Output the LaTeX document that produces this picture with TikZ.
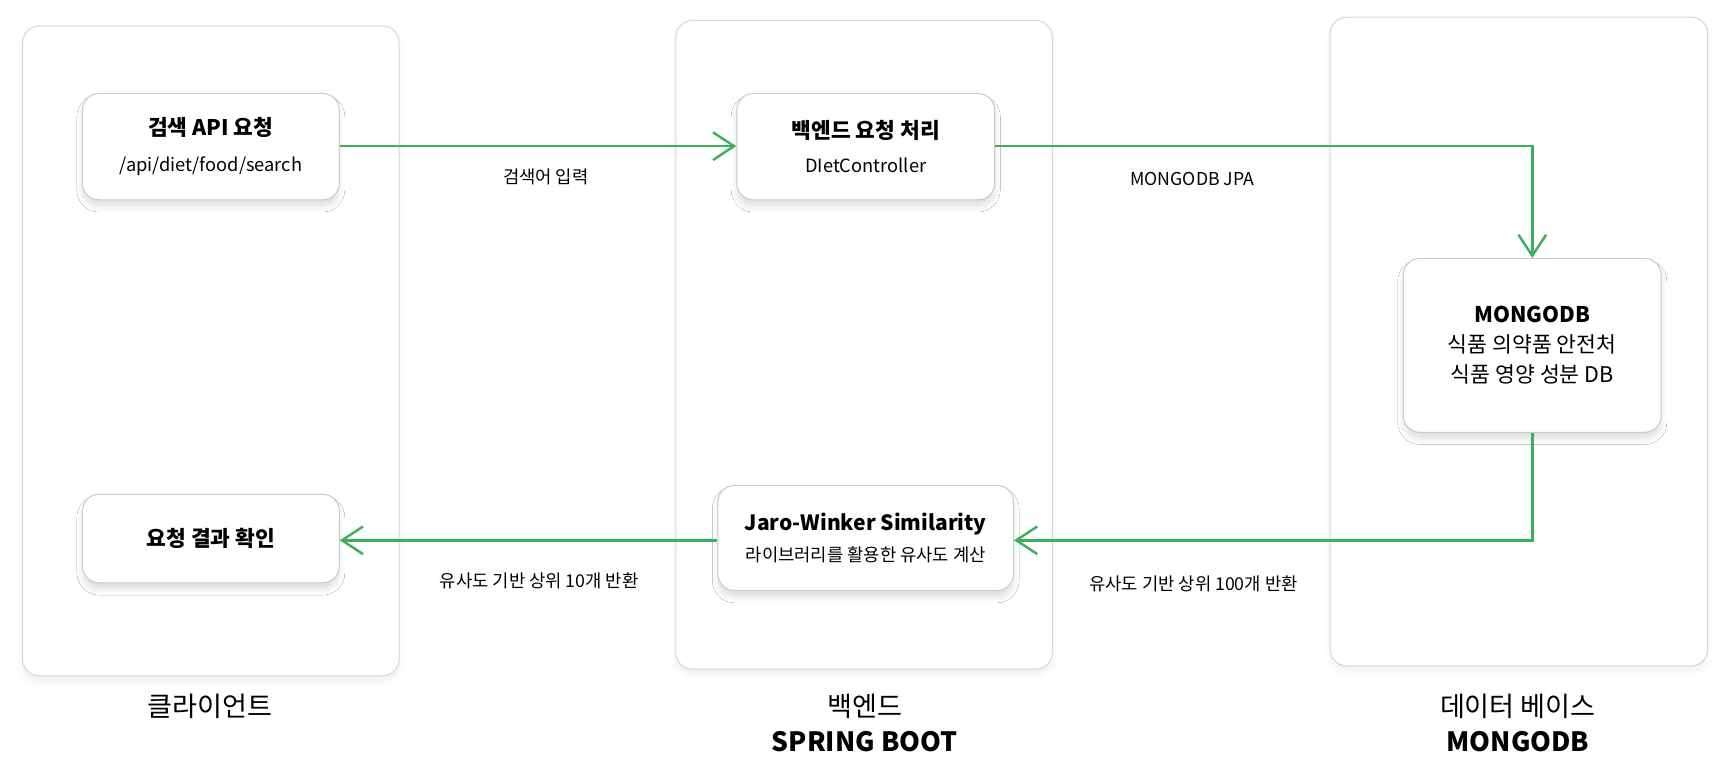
\documentclass[tikz,border=0pt]{standalone}
\usepackage{fontspec}
\setmainfont{Noto Sans CJK KR}
\usetikzlibrary{arrows.meta,shadows.blur}
\definecolor{flow}{HTML}{3CB05A}
\definecolor{edgegray}{HTML}{D6D6D6}
\definecolor{boxgray}{HTML}{CACACA}
\begin{document}
\begin{tikzpicture}[x=1pt,y=-1pt,
  lane/.style={draw=edgegray,line width=0.9pt,rounded corners=15pt,fill=white,
    blur shadow={shadow xshift=0pt,shadow yshift=-5pt,shadow blur radius=5pt,shadow opacity=6},
    inner sep=0pt,anchor=north west},
  card/.style={draw=boxgray,line width=0.9pt,rounded corners=15pt,fill=white,
    blur shadow={shadow xshift=0pt,shadow yshift=-6pt,shadow blur radius=5pt,shadow opacity=12},
    inner sep=0pt,anchor=north west,align=center,text=black},
  elabel/.style={font=\fontsize{16}{19}\selectfont,text=black,inner sep=0pt},
  lanelabel/.style={font=\fontsize{24.5}{29}\selectfont,text=black,inner sep=0pt,align=center},
  lanebold/.style={font=\fontsize{24}{29}\selectfont\bfseries,text=black,inner sep=0pt,align=center},
  flowarrow/.style={draw=flow,line width=2.2pt,-{Straight Barb[length=19pt,width=25pt]}}
]
\useasboundingbox (0,0) rectangle (1568,706.3);
% lanes
\node[lane,minimum width=340pt,minimum height=587pt] (lane1) at (20,23) {};
\node[lane,minimum width=340pt,minimum height=586pt] (lane2) at (610,18) {};
\node[lane,minimum width=341pt,minimum height=586pt] (lane3) at (1201,15) {};
% cards
\node[card,minimum width=232pt,minimum height=96pt,font=\fontsize{16.5}{33}\selectfont] (search) at (74,84)
  {{\fontsize{19.4}{23}\selectfont\bfseries 검색 API 요청}\\/api/diet/food/search};
\node[card,minimum width=233pt,minimum height=96pt,font=\fontsize{16.5}{31}\selectfont] (backend) at (665,84)
  {{\fontsize{19.4}{23}\selectfont\bfseries 백엔드 요청 처리}\\DIetController};
\node[card,minimum width=233pt,minimum height=157pt,font=\fontsize{19.5}{27}\selectfont] (mongo) at (1267,233)
  {{\bfseries MONGODB}\\식품 의약품 안전처\\식품 영양 성분 DB};
\node[card,minimum width=267pt,minimum height=95pt,font=\fontsize{16}{28}\selectfont] (jaro) at (648,438)
  {{\fontsize{19}{23}\selectfont\bfseries Jaro-Winker Similarity}\\라이브러리를 활용한 유사도 계산};
\node[card,minimum width=232pt,minimum height=80pt,font=\fontsize{19.4}{23}\selectfont\bfseries] (result) at (74,446)
  {요청 결과 확인};
% connectors
\coordinate (c1) at (1384,132);
\coordinate (c2) at (1384,488);
\draw[flowarrow] (search.east |- 0,132) -- (backend.west |- 0,132);
\draw[flowarrow] (backend.east |- 0,132) -- (c1) -- (mongo.north -| c1);
\draw[flowarrow] (mongo.south -| c1) -- (c2) -- (jaro.east |- c2);
\draw[flowarrow] (jaro.west |- c2) -- (result.east |- c2);
% edge labels
\node[elabel] (l1) at (493,160) {검색어 입력};
\node[elabel] (l2) at (1077,162) {MONGODB JPA};
\node[elabel] (l3) at (487,525) {유사도 기반 상위 10개 반환};
\node[elabel] (l4) at (1078,527) {유사도 기반 상위 100개 반환};
% lane labels
\node[lanelabel] (t1) at (190,638) {클라이언트};
\node[lanelabel] (t2) at (781,638) {백엔드};
\node[lanebold] (t2b) at (781,670) {SPRING BOOT};
\node[lanelabel] (t3) at (1371,638) {데이터 베이스};
\node[lanebold] (t3b) at (1371,670) {MONGODB};
\end{tikzpicture}
\end{document}
